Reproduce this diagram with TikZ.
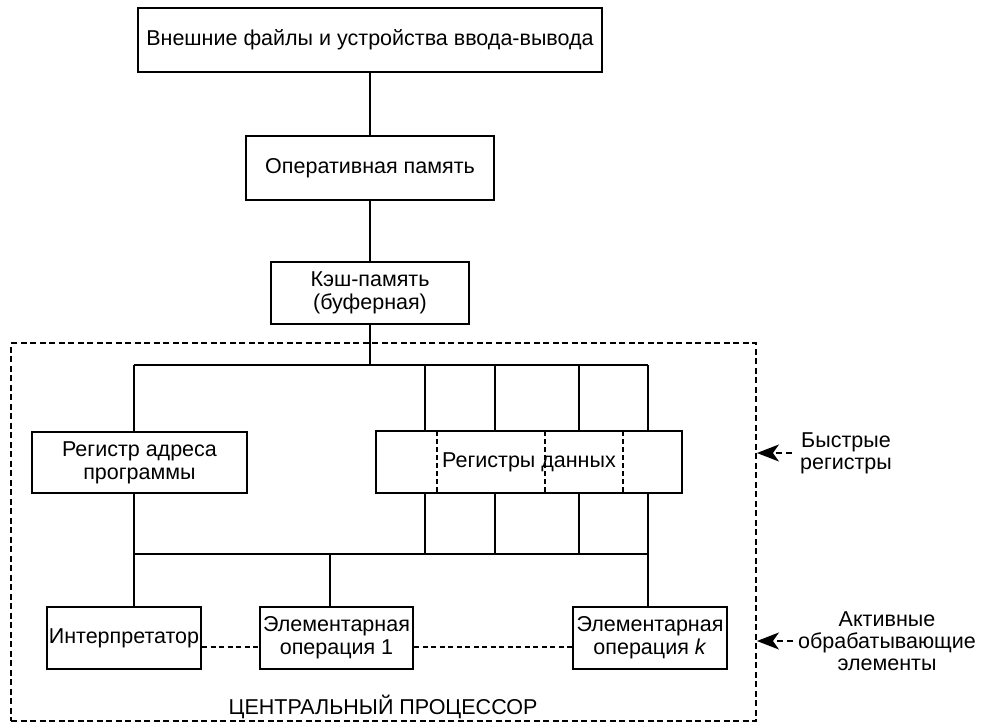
\documentclass[tikz,border=0pt]{standalone}
\usepackage{fontspec}
\setmainfont{Liberation Sans}
\usetikzlibrary{arrows.meta}
\begin{document}
\begin{tikzpicture}[x=1pt,y=-1pt,
  every node/.style={font=\fontsize{21.5}{23}\selectfont},
  box/.style={draw, line width=1.7pt, inner sep=0pt, align=center},
  opbox/.style={box, line width=2.3pt},
  wire/.style={line width=1.5pt},
  cpuframe/.style={draw, line width=1.9pt, dash pattern=on 6pt off 3.5pt, inner sep=0pt},
  link/.style={line width=1.5pt, dash pattern=on 5pt off 3.5pt},
  split/.style={line width=1.3pt, dash pattern=on 5pt off 3pt},
  pointer/.style={line width=1.6pt, dash pattern=on 6pt off 4pt,
    -{Stealth[length=22pt,width=17pt,inset=6pt]}},
  note/.style={align=center, inner sep=0pt, font=\fontsize{21.5}{22}\selectfont}
]
\useasboundingbox (0,0) rectangle (982,725);

% processor frame
\node[cpuframe, minimum width=745pt, minimum height=378pt] (cpu) at (383.5,532) {};

% memory hierarchy
\node[box, minimum width=464pt, minimum height=64pt] (ext) at (370,40) {Внешние файлы и устройства ввода-вывода};
\node[box, minimum width=248pt, minimum height=64pt] (ram) at (370,168) {Оперативная память};
\node[box, minimum width=198pt, minimum height=62pt] (cache) at (370,293) {Кэш-память\\(буферная)};

% registers
\node[box, minimum width=215pt, minimum height=61pt] (pra) at (139.5,462.5) {Регистр адреса\\программы};
\node[box, minimum width=306pt, minimum height=62pt] (regs) at (529,462) {Регистры данных};

% processing elements
\node[opbox, minimum width=154pt, minimum height=62pt] (interp) at (124,638) {Интерпретатор};
\node[opbox, minimum width=153pt, minimum height=62pt] (op1) at (336.5,638) {Элементарная\\операция 1};
\node[opbox, minimum width=154pt, minimum height=62pt] (opk) at (650,638) {Элементарная\\операция \textit{k}};

\node (cpulabel) at (383,707) {ЦЕНТРАЛЬНЫЙ ПРОЦЕССОР};

% side labels
\node[note] (fast) at (846,453) {Быстрые\\регистры};
\node[note] (active) at (887,641) {Активные\\обрабатывающие\\элементы};

% bus junctions
\coordinate (tl) at (134,365);
\coordinate (tr) at (648,365);
\coordinate (bl) at (134,554);
\coordinate (br) at (648,554);
\coordinate (j1) at (330,554);
\coordinate (lk) at (0,647);

% vertical chain
\draw[wire] (ext.south) -- (ram.north);
\draw[wire] (ram.south) -- (cache.north);
\draw[wire] (cache.south) -- (cache.south |- tl);

% buses
\draw[wire] (tl) -- (tr);
\draw[wire] (bl) -- (br);
\draw[wire] (tl) -- (tl |- pra.north);
\draw[wire] (tl |- pra.south) -- (tl |- interp.north);
\draw[wire] (j1) -- (j1 |- op1.north);
\draw[wire] (br) -- (br |- opk.north);

% register cells above and below the data register row
\foreach \cx in {425,495,579,648} {
  \draw[wire] (\cx,365) -- (\cx,431);
  \draw[wire] (\cx,493) -- (\cx,554);
}
\foreach \dx in {437,545,623} {
  \draw[split] (\dx,431) -- (\dx,493);
}

% links between processing elements
\draw[link] (interp.east |- lk) -- (op1.west |- lk);
\draw[link] (op1.east |- lk) -- (opk.west |- lk);

% side pointers
\draw[pointer] ([xshift=-8pt]fast.west) -- (cpu.east |- fast);
\draw[pointer] ([xshift=-5pt]active.west) -- (cpu.east |- active);
\end{tikzpicture}
\end{document}
